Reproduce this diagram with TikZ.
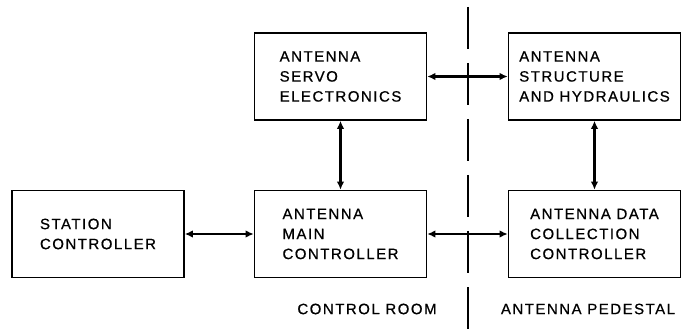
\documentclass[tikz,border=0pt]{standalone}
\usepackage{fontspec}
\setmainfont[LetterSpace=10,FakeBold=0.7]{Liberation Sans}
\usetikzlibrary{arrows.meta}
\begin{document}
\begin{tikzpicture}[x=1pt,y=1pt,
  blk/.style={draw,line width=1.6pt,minimum width=172pt,minimum height=87pt,inner sep=0pt,align=left,font=\fontsize{15}{20}\selectfont},
  link/.style={line width=2.8pt,{Latex[length=8pt,width=7.5pt]}-{Latex[length=8pt,width=7.5pt]}},
  lbl/.style={font=\fontsize{15}{20}\selectfont}]
\useasboundingbox (0,0) rectangle (682,332);
\coordinate (top) at (468,325); \coordinate (bot) at (468,0);
\draw[line width=1.2pt,dash pattern=on 42pt off 14pt] (top)--(bot);
\node[blk] (servo) at (340.5,255.5) {ANTENNA\\SERVO\\ELECTRONICS};
\node[blk] (struct) at (594.5,255.5) {ANTENNA\\STRUCTURE\\AND HYDRAULICS};
\node[blk] (station) at (98,98) {STATION\\CONTROLLER};
\node[blk] (main) at (340.5,98) {ANTENNA\\MAIN\\CONTROLLER};
\node[blk] (data) at (594.5,98) {ANTENNA DATA\\COLLECTION\\CONTROLLER};
\draw[link] (servo)--(struct); \draw[link] (servo)--(main); \draw[link] (struct)--(data);
\draw[link] (station)--(main); \draw[link] (main)--(data);
\node[lbl] (room) at (367,23) {CONTROL ROOM};
\node[lbl] (pedestal) at (588,23) {ANTENNA PEDESTAL};
\end{tikzpicture}
\end{document}
